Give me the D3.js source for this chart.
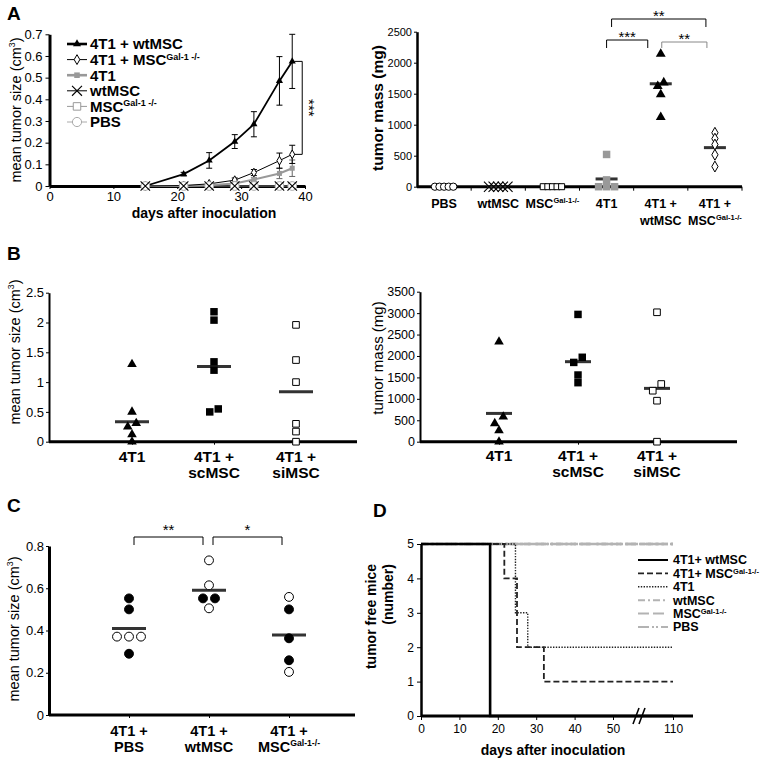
<!DOCTYPE html>
<html>
<head>
<meta charset="utf-8">
<script src="https://cdn.jsdelivr.net/npm/d3@7/dist/d3.min.js"></script>
<style>
html,body{margin:0;padding:0;background:#fff;}
svg{display:block;}
</style>
</head>
<body>
<svg id="fig" width="765" height="763"></svg>
<script>
// ================= DATA =================
// Panel A (left): mean tumor size vs. days
const daysA = [15, 21, 25, 29, 32, 36, 38];
const ticksAx = [0, 10, 20, 30, 40];
const ticksAy = [0, 0.1, 0.2, 0.3, 0.4, 0.5, 0.6, 0.7];
const namesA = ["4T1 + wtMSC", "4T1 + MSC^{Gal-1 -/-}", "4T1", "wtMSC", "MSC^{Gal-1 -/-}", "PBS"];
const sizeWt    = [0, 0.055, 0.118, 0.205, 0.285, 0.485, 0.575];
const errWt     = [0, 0.008, 0.036, 0.032, 0.058, 0.112, 0.125];
const sizeGal   = [0, 0.002, 0.01, 0.027, 0.062, 0.117, 0.146];
const errGal    = [0, 0, 0.004, 0.01, 0.014, 0.035, 0.042];
const size4T1   = [0, 0, 0.003, 0.012, 0.03, 0.058, 0.082];
const err4T1    = [0, 0, 0, 0.004, 0.008, 0.024, 0.038];
const sizeWtMSC = [0, 0, 0, 0, 0, 0, 0];
const sizeMSC   = [0, 0, 0, 0, 0, 0, 0];
const sizePBS   = [0, 0, 0, 0, 0, 0, 0];

// Panel A (right): tumor mass
const catsMass = ["PBS", "wtMSC", "MSC Gal", "4T1", "4T1 + wtMSC", "4T1 + MSC Gal"];
const labelsMass = [["PBS"], ["wtMSC"], ["MSC^{Gal-1-/-}"], ["4T1"], ["4T1 +", "wtMSC"], ["4T1 +", "MSC^{Gal-1-/-}"]];
const ticksMass = [0, 500, 1000, 1500, 2000, 2500];
const massPBS    = [0, 0, 0, 0, 0];
const massWtMSC  = [0, 0, 0, 0, 0];
const massMSC    = [0, 0, 0, 0, 0];
const mass4T1    = [0, 0, 0, 110, 520];
const mass4T1wt  = [2140, 1680, 1620, 1490, 1120];
const mass4T1gal = [870, 775, 680, 515, 325];
const massMeans  = [0, 0, 0, 125, 1660, 630];

// Panel B
const catsB = ["4T1", "4T1 + scMSC", "4T1 + siMSC"];
const labelsB = [["4T1"], ["4T1 +", "scMSC"], ["4T1 +", "siMSC"]];
const ticksBsize = [0, 0.5, 1, 1.5, 2, 2.5];
const ticksBmass = [0, 500, 1000, 1500, 2000, 2500, 3000, 3500];
const sizeB4T1 = [1.3, 0.5, 0.31, 0.25, 0.12, 0];
const sizeBsc  = [2.18, 2.04, 1.34, 1.2, 0.55, 0.5];
const sizeBsi  = [1.96, 1.37, 1.0, 0.3, 0.17, 0];
const sizeBmeans = [0.335, 1.26, 0.84];
const massB4T1 = [2333, 583, 428, 260, 0];
const massBsc  = [2970, 1970, 1850, 1556, 1377];
const massBsi  = [3020, 1346, 1190, 957, 0];
const massBmeans = [660, 1867, 1244];

// Panel C
const catsC = ["4T1 + PBS", "4T1 + wtMSC", "4T1 + MSC Gal"];
const labelsC = [["4T1 +", "PBS"], ["4T1 +", "wtMSC"], ["4T1 +", "MSC^{Gal-1-/-}"]];
const ticksC = [0, 0.2, 0.4, 0.6, 0.8];
const cFilledPBS = [0.552, 0.5, 0.29];
const cOpenPBS   = [0.371, 0.371, 0.371];
const cFilledWt  = [0.552, 0.552];
const cOpenWt    = [0.732, 0.614, 0.505];
const cFilledGal = [0.5, 0.363, 0.259];
const cOpenGal   = [0.559, 0.204];
const cMeans = [0.41, 0.59, 0.379];

// Panel D: tumor free mice (step curves: event days and counts)
const ticksDx = [0, 10, 20, 30, 40, 50, 110];
const ticksDy = [0, 1, 2, 3, 4, 5];
const namesD = ["4T1+ wtMSC", "4T1+ MSC^{Gal-1-/-}", "4T1", "wtMSC", "MSC^{Gal-1-/-}", "PBS"];
const tDwt    = [0, 18];           const nDwt    = [5, 0];
const tDgal   = [0, 21.7, 25, 32]; const nDgal   = [5, 4, 2, 1];
const tD4T1   = [0, 24.6, 27.8];   const nD4T1   = [5, 3, 2];
const tDwtMSC = [0];               const nDwtMSC = [5];
const tDMSC   = [0];               const nDMSC   = [5];
const tDPBS   = [0];               const nDPBS   = [5];
const endDayD = 110;

// ================= HELPERS =================
const FONT = '"Liberation Sans", Arial, Helvetica, sans-serif';
const svg = d3.select("#fig").attr("font-family", FONT);
const fmtInt = d3.format("d");
const fmtG = d3.format("~g");

function rich(t, str, supRaise = 0.42) {
  const fs = +t.attr("font-size");
  const parts = str.split(/\^\{([^}]*)\}/);
  let up = false;
  parts.forEach((p, i) => {
    if (!p) return;
    const ts = t.append("tspan").text(p);
    if (i % 2) { ts.attr("font-size", (fs * 0.6).toFixed(1)).attr("dy", -fs * supRaise); up = true; }
    else if (up) { ts.attr("dy", fs * supRaise); up = false; }
  });
  return t;
}
function txt(g, x, y, str, fs, o = {}) {
  const t = g.append("text").attr("x", x).attr("y", y).attr("font-size", fs)
    .attr("font-weight", o.bold ? "bold" : "normal")
    .attr("text-anchor", o.anchor || "start").attr("fill", o.fill || "#000");
  if (o.rotate != null) t.attr("transform", `rotate(${o.rotate},${x},${y})`);
  return rich(t, str, o.supRaise);
}
function yTitle(g, xc, yc, str, fs, bold, anchor) {
  return txt(g, xc + 0.35 * fs, yc, str, fs, {anchor: anchor || "middle", rotate: -90, bold});
}
function styleAxis(g, fs, lw) {
  g.attr("font-family", FONT).attr("font-size", fs);
  g.select(".domain").attr("stroke", "#000").attr("stroke-width", lw);
  g.selectAll(".tick line").attr("stroke", "#000").attr("stroke-width", 1);
  g.selectAll(".tick text").attr("fill", "#000");
}
const MK = {
  tri:  {t: d3.symbolTriangle, fill: "#000", stroke: "none"},
  dia:  {t: d3.symbolDiamond, fill: "#fff", stroke: "#000", sw: 1},
  sqG:  {t: d3.symbolSquare, fill: "#999", stroke: "none"},
  x:    {t: d3.symbolTimes, fill: "none", stroke: "#000", sw: 1.1},
  sqOG: {t: d3.symbolSquare, fill: "#fff", stroke: "#999", sw: 1},
  cOG:  {t: d3.symbolCircle, fill: "#fff", stroke: "#aaa", sw: 1},
  cO:   {t: d3.symbolCircle, fill: "#fff", stroke: "#000", sw: 1},
  sqO:  {t: d3.symbolSquare, fill: "#fff", stroke: "#000", sw: 1},
  sq:   {t: d3.symbolSquare, fill: "#000", stroke: "none"},
  c:    {t: d3.symbolCircle, fill: "#000", stroke: "#000", sw: 1}
};
function mark(g, type, size, x, y) {
  const m = MK[type];
  g.append("path").attr("d", d3.symbol(m.t, size)()).attr("transform", `translate(${x},${y})`)
    .attr("fill", m.fill).attr("stroke", m.stroke).attr("stroke-width", m.sw || 0);
}
function dodge(vals, y, step, h) {
  const idx = vals.map((v, i) => i).sort((a, b) => vals[a] - vals[b]);
  const off = vals.map(() => 0);
  let cl = [];
  const flush = () => { const n = cl.length; cl.forEach((k, j) => off[k] = (j - (n - 1) / 2) * step); cl = []; };
  idx.forEach(k => {
    if (cl.length && Math.abs(y(vals[k]) - y(vals[cl[cl.length - 1]])) >= h) flush();
    cl.push(k);
  });
  flush();
  return off;
}
function line(g, x1, y1, x2, y2, color, w) {
  g.append("line").attr("x1", x1).attr("y1", y1).attr("x2", x2).attr("y2", y2)
    .attr("stroke", color || "#000").attr("stroke-width", w || 1);
}
function bracket(g, x1, x2, y, drop, color) {
  g.append("path").attr("d", `M${x1},${y + drop}V${y}H${x2}V${y + drop}`)
    .attr("fill", "none").attr("stroke", color || "#000").attr("stroke-width", 1);
}
function stars(g, xc, yc, s, fs) {
  txt(g, xc, yc + 0.58 * fs, s, fs, {anchor: "middle"});
}
function catLabels(g, pos, labels, y1, lh, fs) {
  labels.forEach((lines, i) => lines.forEach((ln, j) =>
    txt(g, pos[i], y1 + j * lh, ln, fs, {anchor: "middle", bold: true})));
}
function dotGroup(g, x0, vals, y, type, size, step, h) {
  const off = dodge(vals, y, step, h);
  vals.forEach((v, i) => mark(g, type, size, x0 + off[i], y(v)));
}
function meanBar(g, xc, yv, w) {
  line(g, xc - w / 2, yv, xc + w / 2, yv, "#333", 3);
}

// ================= PANEL A (left) =================
{
  const g = svg.append("g");
  const x = d3.scaleLinear().domain([0, 40]).range([49.5, 305]);
  const y = d3.scaleLinear().domain([0, 0.7]).range([186, 34.3]);
  g.append("g").attr("transform", `translate(0,${y(0)})`)
    .call(d3.axisBottom(x).tickValues(ticksAx).tickFormat(fmtInt).tickSize(3).tickSizeOuter(0).tickPadding(3))
    .call(a => styleAxis(a, 13, 3));
  g.append("g").attr("transform", `translate(${x(0)},0)`)
    .call(d3.axisLeft(y).tickValues(ticksAy).tickFormat(fmtG).tickSize(4).tickSizeOuter(0).tickPadding(3))
    .call(a => styleAxis(a, 13, 3));

  const series = [
    {vals: sizeWt, err: errWt, stroke: "#000", sw: 1.8, lsw: 2.6, mk: "tri", ms: 22, ec: "#000"},
    {vals: sizeGal, err: errGal, stroke: "#000", sw: 1, lsw: 1, mk: "dia", ms: 22, ec: "#000"},
    {vals: size4T1, err: err4T1, stroke: "#999", sw: 2, lsw: 2.6, mk: "sqG", ms: 25, ec: "#666"},
    {vals: sizeWtMSC, stroke: "#000", sw: 1, lsw: 1, mk: "x", ms: 60},
    {vals: sizeMSC, stroke: "#999", sw: 1, lsw: 1, mk: "sqOG", ms: 50},
    {vals: sizePBS, stroke: "#aaa", sw: 1, lsw: 1, mk: "cOG", ms: 60}
  ];
  const order = [4, 5, 3, 2, 1, 0];
  const ln = d3.line().x((d, i) => x(daysA[i])).y(d => y(d));
  order.forEach(k => {
    const s = series[k];
    g.append("path").attr("d", ln(s.vals)).attr("fill", "none").attr("stroke", s.stroke).attr("stroke-width", s.sw);
  });
  [2, 1, 0].forEach(k => {
    const s = series[k];
    s.vals.forEach((v, i) => {
      const e = s.err[i];
      if (e <= 0) return;
      const xx = x(daysA[i]);
      line(g, xx, y(v - e), xx, y(v + e), s.ec, 1);
      line(g, xx - 3, y(v + e), xx + 3, y(v + e), s.ec, 1);
      line(g, xx - 3, y(v - e), xx + 3, y(v - e), s.ec, 1);
    });
  });
  [0, 1, 2, 4, 5, 3].forEach(k => {
    const s = series[k];
    s.vals.forEach((v, i) => mark(g, s.mk, s.ms, x(daysA[i]), y(v)));
  });

  // legend
  namesA.forEach((nm, i) => {
    const s = series[i];
    const ly = 44 + i * 15.6;
    line(g, 67, ly, 87, ly, s.stroke, s.lsw);
    mark(g, s.mk, s.ms + 6, 77, ly);
    txt(g, 90, ly + 5.3, nm, 15, {bold: true, supRaise: 0.36});
  });

  // significance bracket
  const bx = x(38) + 10;
  g.append("path").attr("d", `M${bx - 8},${y(sizeWt[6])}H${bx}V${y(sizeGal[6])}H${bx - 8}`)
    .attr("fill", "none").attr("stroke", "#000").attr("stroke-width", 1);
  txt(g, 313 - 0.58 * 15, (y(sizeWt[6]) + y(sizeGal[6])) / 2, "***", 15, {anchor: "middle", rotate: 90});

  yTitle(g, 16, 110, "mean tumor size (cm^{3})", 14.5, false);
  txt(g, 204, 218, "days after inoculation", 14, {anchor: "middle", bold: true});
  txt(g, 7, 20, "A", 19, {bold: true});
}

// ================= PANEL A (right) =================
{
  const g = svg.append("g");
  const x = d3.scaleBand().domain(catsMass).range([417, 742]);
  const y = d3.scaleLinear().domain([0, 2500]).range([186.7, 31.7]);
  const cx = c => x(c) + x.bandwidth() / 2;
  g.append("g").attr("transform", `translate(${x.range()[0]},0)`)
    .call(d3.axisLeft(y).tickValues(ticksMass).tickFormat(fmtInt).tickSize(3).tickSizeOuter(0).tickPadding(2))
    .call(a => styleAxis(a, 11, 2.5));
  line(g, x.range()[0], y(0), x.range()[1], y(0), "#000", 3);
  catsMass.forEach(c => line(g, x(c) + x.bandwidth(), y(0), x(c) + x.bandwidth(), y(0) + 4, "#000", 1));

  const groups = [
    {vals: massPBS, mk: "cO", ms: 42, step: 4.6},
    {vals: massWtMSC, mk: "x", ms: 70, step: 4.6},
    {vals: massMSC, mk: "sqO", ms: 36, step: 4.6},
    {vals: mass4T1, mk: "sqG", ms: 56, step: 8},
    {vals: mass4T1wt, mk: "tri", ms: 42, step: 6},
    {vals: mass4T1gal, mk: "dia", ms: 34, step: 6}
  ];
  groups.forEach((gr, i) => {
    meanBar(g, cx(catsMass[i]), y(massMeans[i]), 22);
    dotGroup(g, cx(catsMass[i]), gr.vals, y, gr.mk, gr.ms, gr.step, 5);
  });

  const c3 = cx(catsMass[3]), c4 = cx(catsMass[4]), c5 = cx(catsMass[5]);
  bracket(g, c3 + 5, c5 - 9, 19, 8, "#000");
  stars(g, (c3 + 5 + c5 - 9) / 2, 12, "**", 15);
  bracket(g, c3, c4 - 13, 40, 8, "#000");
  stars(g, (c3 + c4 - 13) / 2, 33, "***", 15);
  bracket(g, c4 + 1, c5 - 8, 42, 6, "#888");
  stars(g, (c4 + 1 + c5 - 8) / 2, 35, "**", 15);

  catLabels(g, catsMass.map(cx), labelsMass, 208, 17, 12.5);
  yTitle(g, 378, 108, "tumor mass (mg)", 15.5, true);
}

// ================= PANEL B (left) =================
{
  const g = svg.append("g");
  const x = d3.scalePoint().domain(catsB).range([132, 296]);
  const y = d3.scaleLinear().domain([0, 2.5]).range([441.7, 292.7]);
  g.append("g").attr("transform", `translate(49,0)`)
    .call(d3.axisLeft(y).tickValues(ticksBsize).tickFormat(fmtG).tickSize(3).tickSizeOuter(0).tickPadding(2))
    .call(a => styleAxis(a, 13, 2));
  g.append("g").attr("transform", `translate(0,${y(0)})`)
    .call(d3.axisBottom(x).tickSize(3).tickFormat("")).call(a => a.select(".domain").remove());
  line(g, 49, y(0), 357, y(0), "#000", 3);

  const groups = [
    {vals: sizeB4T1, mk: "tri", ms: 40},
    {vals: sizeBsc, mk: "sq", ms: 56},
    {vals: sizeBsi, mk: "sqO", ms: 44}
  ];
  groups.forEach((gr, i) => {
    meanBar(g, x(catsB[i]), y(sizeBmeans[i]), 34);
    dotGroup(g, x(catsB[i]), gr.vals, y, gr.mk, gr.ms, 8.5, 7);
  });
  catLabels(g, catsB.map(c => x(c)), labelsB, 462, 16, 15.5);
  yTitle(g, 15, 352, "mean tumor size (cm^{3})", 14.5, false);
  txt(g, 7, 260, "B", 19, {bold: true});
}

// ================= PANEL B (right) =================
{
  const g = svg.append("g");
  const x = d3.scalePoint().domain(catsB).range([499, 657]);
  const y = d3.scaleLinear().domain([0, 3500]).range([441.7, 291.7]);
  g.append("g").attr("transform", `translate(420,0)`)
    .call(d3.axisLeft(y).tickValues(ticksBmass).tickFormat(fmtInt).tickSize(3).tickSizeOuter(0).tickPadding(2))
    .call(a => styleAxis(a, 12.5, 2));
  g.append("g").attr("transform", `translate(0,${y(0)})`)
    .call(d3.axisBottom(x).tickSize(3).tickFormat("")).call(a => a.select(".domain").remove());
  line(g, 420, y(0), 737, y(0), "#000", 3);

  const groups = [
    {vals: massB4T1, mk: "tri", ms: 40},
    {vals: massBsc, mk: "sq", ms: 56},
    {vals: massBsi, mk: "sqO", ms: 44}
  ];
  groups.forEach((gr, i) => {
    meanBar(g, x(catsB[i]), y(massBmeans[i]), 26);
    dotGroup(g, x(catsB[i]), gr.vals, y, gr.mk, gr.ms, 8.5, 7);
  });
  catLabels(g, catsB.map(c => x(c)), labelsB, 461, 16, 15.5);
  yTitle(g, 378, 358, "tumor mass (mg)", 15, false);
}

// ================= PANEL C =================
{
  const g = svg.append("g");
  const x = d3.scalePoint().domain(catsC).range([129, 289]);
  const y = d3.scaleLinear().domain([0, 0.8]).range([715, 546]);
  g.append("g").attr("transform", `translate(49,0)`)
    .call(d3.axisLeft(y).tickValues(ticksC).tickFormat(fmtG).tickSize(3).tickSizeOuter(0).tickPadding(2))
    .call(a => styleAxis(a, 13, 3));
  g.append("g").attr("transform", `translate(0,${y(0)})`)
    .call(d3.axisBottom(x).tickSize(3).tickFormat("")).call(a => a.select(".domain").remove());
  line(g, 49, y(0), 355, y(0), "#000", 3);

  const groups = [
    {filled: cFilledPBS, open: cOpenPBS},
    {filled: cFilledWt, open: cOpenWt},
    {filled: cFilledGal, open: cOpenGal}
  ];
  groups.forEach((gr, i) => {
    const xc = x(catsC[i]);
    meanBar(g, xc, y(cMeans[i]), 34);
    const vals = gr.filled.concat(gr.open);
    const off = dodge(vals, y, 12, 8);
    vals.forEach((v, k) => mark(g, k < gr.filled.length ? "c" : "cO", 62, xc + off[k], y(v)));
  });
  const p = catsC.map(c => x(c));
  bracket(g, p[0] + 5, p[1] - 6, 537, 8, "#000");
  stars(g, (p[0] + 5 + p[1] - 6) / 2, 526, "**", 15);
  bracket(g, p[1] + 4, p[2] - 7, 537, 8, "#000");
  stars(g, (p[1] + 4 + p[2] - 7) / 2, 526, "*", 15);

  catLabels(g, p, labelsC, 736, 16, 14.5);
  yTitle(g, 14, 629, "mean tumor size (cm^{3})", 14.5, false);
  txt(g, 7, 512, "C", 19, {bold: true});
}

// ================= PANEL D =================
{
  const g = svg.append("g");
  const x = d3.scaleLinear().domain([0, 50, 110]).range([421, 613, 673]);
  const y = d3.scaleLinear().domain([0, 5]).range([716, 544]);

  const gray = "#b3b3b3";
  const series = [
    {t: tDwt, n: nDwt, c: "#000", w: 2.6, dash: null},
    {t: tDgal, n: nDgal, c: "#222", w: 1.8, dash: "6,3"},
    {t: tD4T1, n: nD4T1, c: "#222", w: 1.4, dash: "1.4,1.4"},
    {t: tDwtMSC, n: nDwtMSC, c: gray, w: 2.6, dash: "7,3,2,3", off: 0},
    {t: tDMSC, n: nDMSC, c: gray, w: 2.6, dash: "11,4", off: 6},
    {t: tDPBS, n: nDPBS, c: gray, w: 2.6, dash: "11,3,2,2,2,3", off: 3}
  ];
  const step = d3.line().curve(d3.curveStepAfter).x(d => x(d[0])).y(d => y(d[1]));
  [5, 4, 3, 2, 1, 0].forEach(k => {
    const s = series[k];
    const pts = s.t.map((t, i) => [t, s.n[i]]).concat([[endDayD, s.n[s.n.length - 1]]]);
    const pth = g.append("path").attr("d", step(pts)).attr("fill", "none")
      .attr("stroke", s.c).attr("stroke-width", s.w);
    if (s.dash) pth.attr("stroke-dasharray", s.dash).attr("stroke-dashoffset", s.off || 0);
  });

  g.append("g").attr("transform", `translate(0,${y(0)})`)
    .call(d3.axisBottom(x).tickValues(ticksDx).tickFormat(fmtInt).tickSize(4).tickSizeOuter(0).tickPadding(4))
    .call(a => { a.select(".domain").remove(); styleAxis(a, 12, 3); });
  line(g, x(0), y(0), x(110) + 20, y(0), "#000", 3);
  g.append("g").attr("transform", `translate(${x(0)},0)`)
    .call(d3.axisLeft(y).tickValues(ticksDy).tickFormat(fmtInt).tickSize(4).tickSizeOuter(0).tickPadding(3))
    .call(a => styleAxis(a, 12, 2.5));

  // axis break
  const bxm = (x(50) + x(110)) / 2 - 3;
  line(g, bxm - 7, y(0) + 8, bxm - 1, y(0) - 8, "#000", 1.6);
  line(g, bxm - 1, y(0) + 8, bxm + 5, y(0) - 8, "#000", 1.6);

  // legend
  namesD.forEach((nm, i) => {
    const s = series[i];
    const ly = 560 + i * 13.4;
    const l = g.append("line").attr("x1", 638).attr("x2", 668).attr("y1", ly).attr("y2", ly)
      .attr("stroke", s.c).attr("stroke-width", Math.min(s.w, 2));
    if (s.dash) l.attr("stroke-dasharray", s.dash);
    txt(g, 673, ly + 4.4, nm, 12.5, {bold: true, supRaise: 0.3});
  });

  txt(g, 553, 755, "days after inoculation", 14, {anchor: "middle", bold: true});
  yTitle(g, 371, 564, "tumor free mice", 14, true, "end");
  yTitle(g, 388, 564, "(number)", 14, true, "end");
  txt(g, 373, 517, "D", 19, {bold: true});
}
</script>
</body>
</html>
